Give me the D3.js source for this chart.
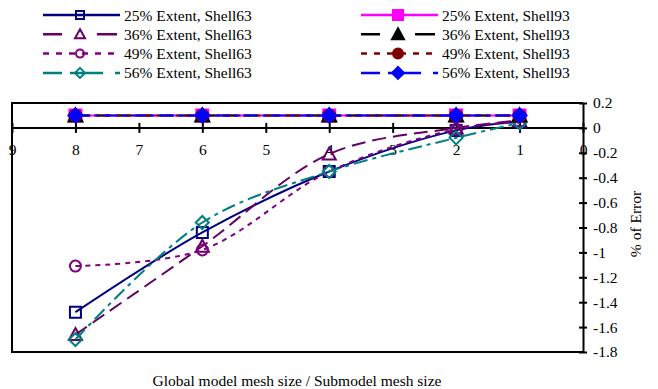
<!DOCTYPE html>
<html>
<head>
<meta charset="utf-8">
<script src="https://cdn.jsdelivr.net/npm/d3@7"></script>
<style>
  body { margin: 0; background: #fff; }
  text { font-family: "Liberation Serif", "Times New Roman", serif; }
</style>
</head>
<body>
<svg id="chart" width="658" height="389"></svg>
<script>
// mesh size ratios (x) and % error per series
const meshRatio = [8, 6, 4, 2, 1];
const shell63_25 = [-1.48, -0.84, -0.35, -0.02, 0.05];
const shell63_36 = [-1.66, -0.95, -0.21, 0.0, 0.06];
const shell63_49 = [-1.11, -0.98, -0.35, -0.01, 0.05];
const shell63_56 = [-1.70, -0.76, -0.35, -0.08, 0.04];
const shell93_25 = [0.1, 0.1, 0.1, 0.1, 0.1];
const shell93_36 = [0.1, 0.1, 0.1, 0.1, 0.1];
const shell93_49 = [0.1, 0.1, 0.1, 0.1, 0.1];
const shell93_56 = [0.1, 0.1, 0.1, 0.1, 0.1];
const xTicks = [9, 8, 7, 6, 5, 4, 3, 2, 1, 0];
const yTicks = [0.2, 0, -0.2, -0.4, -0.6, -0.8, -1, -1.2, -1.4, -1.6, -1.8];

// line styles: dash in plot, dash in legend
const solid = {plot: null, key: null};
const longDash = {plot: "14,7", key: "19,35,20"};
const dotted = {plot: "5,5", key: "6,7"};
const dashDot = {plot: "14,5,4,5", key: "19,8,33,12,5"};

const series = [
	{name: "25% Extent, Shell63", values: shell63_25, color: "#000080", style: solid, marker: "square", fill: false},
	{name: "36% Extent, Shell63", values: shell63_36, color: "#660066", style: longDash, marker: "triangle", fill: false},
	{name: "49% Extent, Shell63", values: shell63_49, color: "#800080", style: dotted, marker: "circle", fill: false},
	{name: "56% Extent, Shell63", values: shell63_56, color: "#008080", style: dashDot, marker: "diamond", fill: false},
	{name: "25% Extent, Shell93", values: shell93_25, color: "#FF00FF", style: solid, marker: "square", fill: true},
	{name: "36% Extent, Shell93", values: shell93_36, color: "#000000", style: longDash, marker: "triangle", fill: true},
	{name: "49% Extent, Shell93", values: shell93_49, color: "#800000", style: dotted, marker: "circle", fill: true},
	{name: "56% Extent, Shell93", values: shell93_56, color: "#0000FF", style: dashDot, marker: "diamond", fill: true}
];

const canvas = d3.select("#chart");
const fontSize = 15.5;

const plotLeft = 12, plotRight = 583, plotTop = 103, plotBottom = 352;
const xScale = d3.scaleLinear().domain([9, 0]).range([plotLeft, plotRight]);
const yScale = d3.scaleLinear().domain([-1.8, 0.2]).range([plotBottom, plotTop]);

function markerPath(type, size) {
	const s = size / 2;
	if (type === "square") return `M${-s},${-s}H${s}V${s}H${-s}Z`;
	if (type === "triangle") return `M0,${-s - 1}L${s + 1},${s}H${-s - 1}Z`;
	if (type === "diamond") return `M0,${-s - 1}L${s + 1},0L0,${s + 1}L${-s - 1},0Z`;
	return d3.arc()({innerRadius: 0, outerRadius: s, startAngle: 0, endAngle: 2 * Math.PI});
}

function drawMarker(g, d, x, y, size) {
	g.append("path")
	 .attr("d", markerPath(d.marker, size))
	 .attr("transform", `translate(${x},${y})`)
	 .attr("fill", d.fill ? d.color : "none")
	 .attr("stroke", d.color)
	 .attr("stroke-width", 2);
}

// plot frame
canvas.append("path")
	  .attr("d", `M${plotRight},${plotTop}H${plotLeft}V${plotBottom}H${plotRight}`)
	  .attr("fill", "none")
	  .attr("stroke", "black")
	  .attr("stroke-width", 2);

// x axis on y = 0, ticks crossing
const xAxis = d3.axisBottom(xScale).tickValues(xTicks).tickSizeInner(5).tickSizeOuter(0).tickPadding(11).tickFormat(d3.format("d"));
const gx = canvas.append("g").attr("transform", `translate(0,${yScale(0)})`).call(xAxis);
gx.select(".domain").attr("stroke-width", 2).attr("d", `M${plotLeft},0H${plotRight}`);
gx.selectAll(".tick line").attr("y1", -5).attr("stroke-width", 2);
gx.selectAll(".tick text").attr("font-size", fontSize).attr("font-family", "Liberation Serif");

// y axis on the right
const yAxis = d3.axisRight(yScale).tickValues(yTicks).tickSizeInner(4).tickSizeOuter(0).tickPadding(6);
const gy = canvas.append("g").attr("transform", `translate(${plotRight},0)`).call(yAxis);
gy.select(".domain").attr("stroke-width", 2);
gy.selectAll(".tick line").attr("x1", -4).attr("stroke-width", 2);
gy.selectAll(".tick text").attr("font-size", fontSize).attr("font-family", "Liberation Serif")
  .text(d => String(d));

// series lines and markers
const line = d3.line()
	.x((d, i) => xScale(meshRatio[i]))
	.y(d => yScale(d))
	.curve(d3.curveCatmullRom);

series.forEach(s => {
	canvas.append("path")
		  .attr("d", line(s.values))
		  .attr("fill", "none")
		  .attr("stroke", s.color)
		  .attr("stroke-width", 2)
		  .attr("stroke-dasharray", s.style.plot);
	const mg = canvas.append("g");
	s.values.forEach((v, i) => drawMarker(mg, s, xScale(meshRatio[i]), yScale(v), s.fill ? 12 : 11));
});

// legend
const legend = canvas.append("g");
series.forEach((s, i) => {
	const col = Math.floor(i / 4), row = i % 4;
	const x0 = col === 0 ? 43 : 361;
	const y0 = 15 + row * 19.3;
	legend.append("line")
		  .attr("x1", x0).attr("x2", x0 + 77)
		  .attr("y1", y0).attr("y2", y0)
		  .attr("stroke", s.color)
		  .attr("stroke-width", 2.5)
		  .attr("stroke-dasharray", s.style.key);
	drawMarker(legend, s, x0 + 37, y0, s.fill ? 10 : 8);
	legend.append("text")
		  .attr("x", x0 + 81).attr("y", y0 + 5.5)
		  .attr("font-size", fontSize)
		  .text(s.name);
});

// axis titles
canvas.append("text")
	  .attr("x", 297).attr("y", 386)
	  .attr("text-anchor", "middle")
	  .attr("font-size", fontSize)
	  .text("Global model mesh size / Submodel mesh size");

canvas.append("text")
	  .attr("transform", "translate(641,224) rotate(-90)")
	  .attr("text-anchor", "middle")
	  .attr("font-size", fontSize)
	  .text("% of Error");
</script>
</body>
</html>
